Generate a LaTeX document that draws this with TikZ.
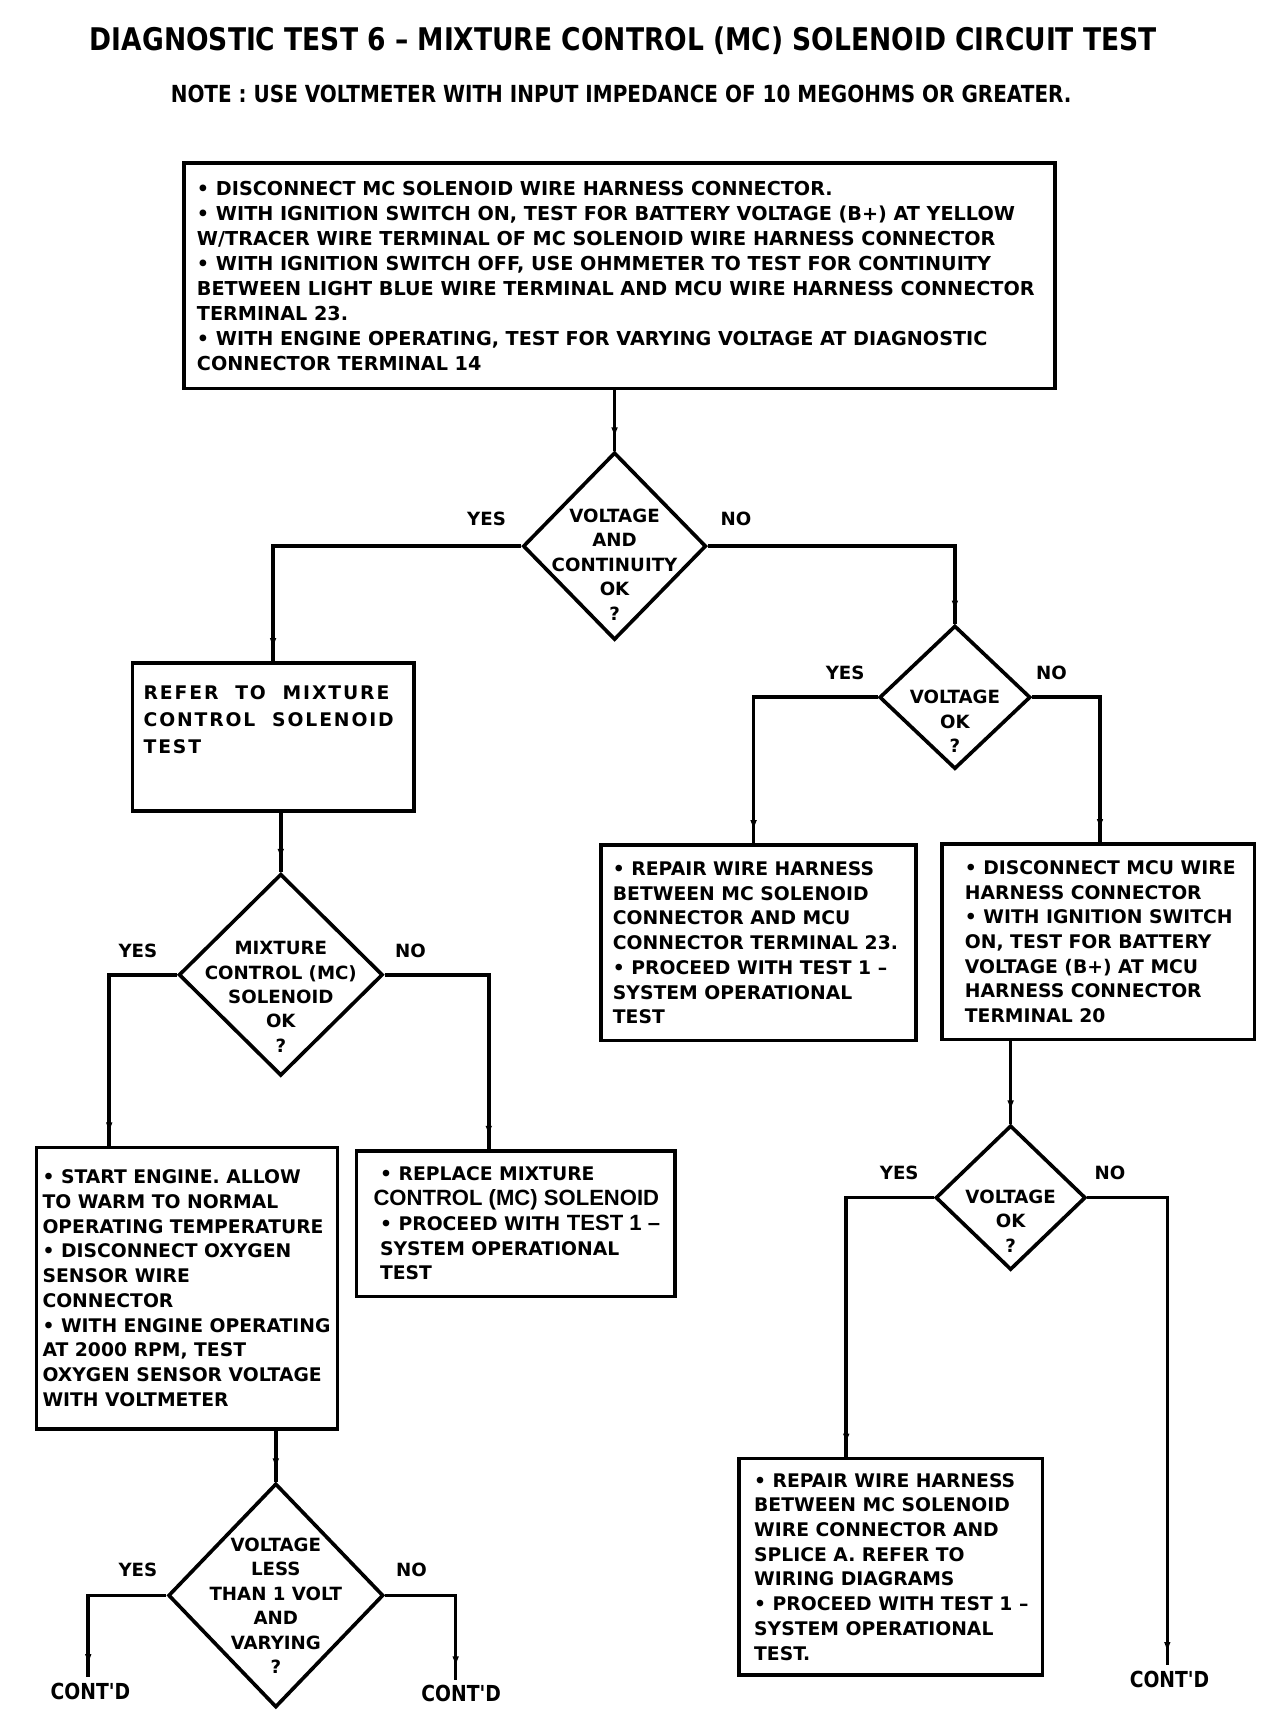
\documentclass[tikz,border=0pt]{standalone}
\usepackage{fontspec}
\setmainfont{DejaVu Sans}
\newfontfamily\bodyfont{DejaVu Sans}
\newfontfamily\headfont{DejaVu Sans}[FakeStretch=0.85]
\newfontfamily\regfont{Liberation Sans}
\usetikzlibrary{shapes.geometric,arrows.meta,decorations.markings}
\newcommand{\rg}[1]{{\regfont\fontsize{20}{22.4}\selectfont #1}}
\tikzset{
  box/.style={draw, line width=3.3pt, inner sep=0pt},
  dia/.style={diamond, draw, line width=3.3pt, inner sep=0pt},
  txt/.style={font=\bodyfont\bfseries\fontsize{17}{22.4}\selectfont, align=left, inner sep=0pt},
  toptxt/.style={font=\bodyfont\bfseries\fontsize{17.4}{22.6}\selectfont, align=left, inner sep=0pt},
  widetxt/.style={font=\bodyfont\bfseries\fontsize{17}{24.5}\selectfont\addfontfeature{LetterSpace=10}, align=left, inner sep=0pt},
  dtxt/.style={font=\bodyfont\bfseries\fontsize{16.5}{22.2}\selectfont, align=center, inner sep=0pt},
  yn/.style={font=\bodyfont\bfseries\fontsize{16.5}{20}\selectfont, inner sep=0pt},
  contd/.style={font=\headfont\bfseries\fontsize{20}{22}\selectfont, inner xsep=0pt, inner ysep=5pt},
  conn/.style={line width=3.3pt, postaction={decorate},
    decoration={markings, mark=at position -11pt with {\arrow{Latex[length=10pt,width=6pt]}}}},
}
\begin{document}
\begin{tikzpicture}[x=1pt,y=-1pt]
\useasboundingbox (0,0) rectangle (1160,1568);
\fill[white] (0,0) rectangle (1160,1568);

\node[font=\headfont\bfseries\fontsize{28.3}{30}\selectfont, inner sep=0pt] (title) at (565,37)
  {DIAGNOSTIC TEST 6 – MIXTURE CONTROL (MC) SOLENOID CIRCUIT TEST};
\node[font=\headfont\bfseries\fontsize{21.3}{24}\selectfont, inner sep=0pt] (note) at (563,85)
  {NOTE : USE VOLTMETER WITH INPUT IMPEDANCE OF 10 MEGOHMS OR GREATER.};

% boxes
\node[box, minimum width=789pt, minimum height=204pt] (b1) at (561.5,250) {};
\node[toptxt, anchor=west] (b1t) at ([xshift=13pt]b1.west) {%
• DISCONNECT MC SOLENOID WIRE HARNESS CONNECTOR.\\
• WITH IGNITION SWITCH ON, TEST FOR BATTERY VOLTAGE (B+) AT YELLOW\\
W/TRACER WIRE TERMINAL OF MC SOLENOID WIRE HARNESS CONNECTOR\\
• WITH IGNITION SWITCH OFF, USE OHMMETER TO TEST FOR CONTINUITY\\
BETWEEN LIGHT BLUE WIRE TERMINAL AND MCU WIRE HARNESS CONNECTOR\\
TERMINAL 23.\\
• WITH ENGINE OPERATING, TEST FOR VARYING VOLTAGE AT DIAGNOSTIC\\
CONNECTOR TERMINAL 14};

\node[box, minimum width=255pt, minimum height=134pt] (b2) at (247.5,668) {};
\node[widetxt, anchor=north west] (b2t) at (130,621) {%
REFER\ \ TO\ \ MIXTURE\\
CONTROL\ \ SOLENOID\\
TEST};

\node[box, minimum width=273pt, minimum height=255pt] (b4) at (169.5,1167.5) {};
\node[txt, anchor=west] (b4t) at ([xshift=7pt]b4.west) {%
• START ENGINE. ALLOW\\
TO WARM TO NORMAL\\
OPERATING TEMPERATURE\\
• DISCONNECT OXYGEN\\
SENSOR WIRE\\
CONNECTOR\\
• WITH ENGINE OPERATING\\
AT 2000 RPM, TEST\\
OXYGEN SENSOR VOLTAGE\\
WITH VOLTMETER};

\node[box, minimum width=289pt, minimum height=132pt] (b5) at (467.5,1109) {};
\node[txt, anchor=west] (b5t) at ([xshift=17pt]b5.west) {%
\ • REPLACE MIXTURE\\
\rg{CONTROL (MC) SOLENOID}\\
\ • PROCEED WITH \rg{TEST 1 –}\\
\ SYSTEM OPERATIONAL\\
\ TEST};

\node[box, minimum width=285pt, minimum height=177pt] (b6) at (687.5,854.5) {};
\node[txt, anchor=west] (b6t) at ([xshift=12pt]b6.west) {%
• REPAIR WIRE HARNESS\\
BETWEEN MC SOLENOID\\
CONNECTOR AND MCU\\
CONNECTOR TERMINAL 23.\\
• PROCEED WITH TEST 1 –\\
SYSTEM OPERATIONAL\\
TEST};

\node[box, minimum width=283pt, minimum height=177pt] (b7) at (995.5,853.5) {};
\node[txt, anchor=west] (b7t) at ([xshift=22pt]b7.west) {%
• DISCONNECT MCU WIRE\\
HARNESS CONNECTOR\\
• WITH IGNITION SWITCH\\
ON, TEST FOR BATTERY\\
VOLTAGE (B+) AT MCU\\
HARNESS CONNECTOR\\
TERMINAL 20};

\node[box, minimum width=275pt, minimum height=196pt] (b8) at (807.5,1420) {};
\node[txt, anchor=west] (b8t) at ([xshift=15pt]b8.west) {%
• REPAIR WIRE HARNESS\\
BETWEEN MC SOLENOID\\
WIRE CONNECTOR AND\\
SPLICE A. REFER TO\\
WIRING DIAGRAMS\\
• PROCEED WITH TEST 1 –\\
SYSTEM OPERATIONAL\\
TEST.};

% diamonds
\node[dia, minimum width=166pt, minimum height=170pt] (d1) at (557,495) {};
\node[dtxt] (d1t) at (557,511.5) {VOLTAGE\\AND\\CONTINUITY\\OK\\?};
\node[dia, minimum width=137pt, minimum height=130pt] (d2) at (865.5,632) {};
\node[dtxt] (d2t) at (865.5,654) {VOLTAGE\\OK\\?};
\node[dia, minimum width=185pt, minimum height=183pt] (d3) at (254.5,883.5) {};
\node[dtxt] (d3t) at (254.5,903.5) {MIXTURE\\CONTROL (MC)\\SOLENOID\\OK\\?};
\node[dia, minimum width=195pt, minimum height=203pt] (d4) at (250,1446) {};
\node[dtxt] (d4t) at (250,1455.5) {VOLTAGE\\LESS\\THAN 1 VOLT\\AND\\VARYING\\?};
\node[dia, minimum width=136pt, minimum height=131pt] (d5) at (916,1085.5) {};
\node[dtxt] (d5t) at (916,1106.5) {VOLTAGE\\OK\\?};

% yes / no labels
\node[yn] (y1) at (441,470) {YES};
\node[yn] (n1) at (667,470) {NO};
\node[yn] (y2) at (766,610) {YES};
\node[yn] (n2) at (953,610) {NO};
\node[yn] (y3) at (125,862) {YES};
\node[yn] (n3) at (372,862) {NO};
\node[yn] (y4) at (125,1423) {YES};
\node[yn] (n4) at (373,1423) {NO};
\node[yn] (y5) at (815,1063) {YES};
\node[yn] (n5) at (1006,1063) {NO};

% continuation labels
\node[contd] (c1) at (82,1533) {CONT'D};
\node[contd] (c2) at (418,1535) {CONT'D};
\node[contd] (c3) at (1060,1522) {CONT'D};

% connectors
\draw[conn] (d1.north |- b1.south) -- (d1.north);
\draw[conn] (d1.west) -| (b2.north);
\draw[conn] (d1.east) -| (d2.north);
\draw[conn] (d3.north |- b2.south) -- (d3.north);
\draw[conn] (d3.west) -| ([xshift=-70.5pt]b4.north);
\draw[conn] (d3.east) -| ([xshift=-24.5pt]b5.north);
\draw[conn] (d4.north |- b4.south) -- (d4.north);
\draw[conn] (d4.west) -| ([xshift=-2pt]c1.north);
\draw[conn] (d4.east) -| ([xshift=-5pt]c2.north);
\draw[conn] (d2.west) -| ([xshift=-4.5pt]b6.north);
\draw[conn] (d2.east) -| ([xshift=1.5pt]b7.north);
\draw[conn] (d5.north |- b7.south) -- (d5.north);
\draw[conn] (d5.west) -| ([xshift=-40.5pt]b8.north);
\draw[conn] (d5.east) -| ([xshift=-2pt]c3.north);
\end{tikzpicture}
\end{document}
